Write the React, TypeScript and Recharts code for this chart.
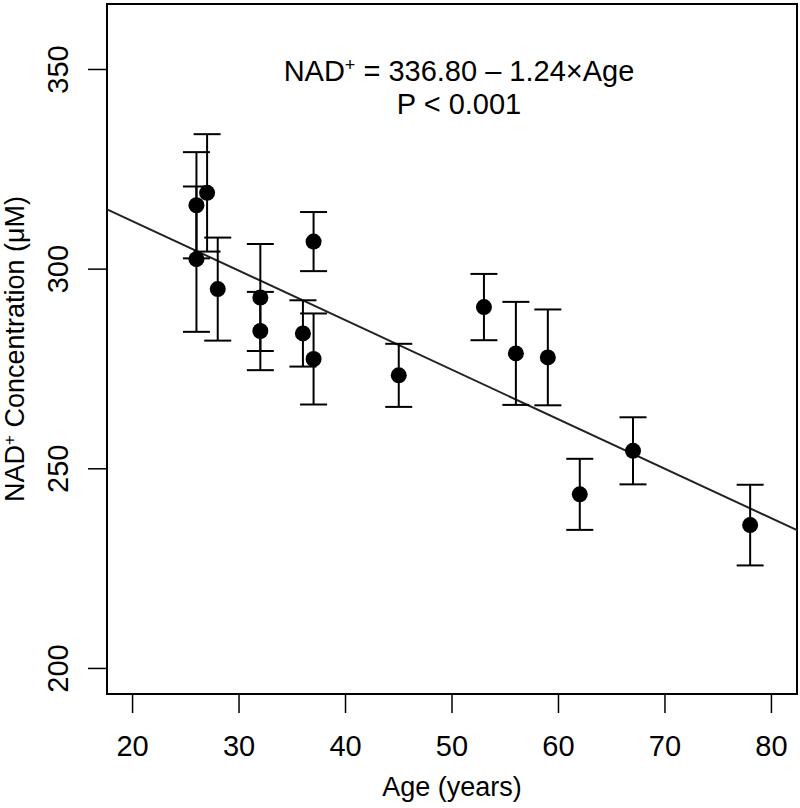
import {
  ErrorBar,
  Label,
  ReferenceArea,
  ReferenceLine,
  Scatter,
  ScatterChart,
  XAxis,
  YAxis,
} from 'recharts';

// Age of each subject and NAD+ mean ± error
const AGES = [26, 26, 27, 28, 32, 32, 36, 37, 37, 45, 53, 56, 59, 62, 67, 78];
const NAD = [316.0, 302.5, 319.1, 295.0, 292.9, 284.5, 283.9, 306.9, 277.5, 273.4, 290.5, 278.9, 277.9, 243.6, 254.5, 235.9];
const ERR = [13.3, 18.2, 14.7, 12.9, 13.4, 9.8, 8.3, 7.4, 11.4, 7.9, 8.3, 12.9, 12.0, 8.9, 8.4, 10.1];

const X_TICKS = [20, 30, 40, 50, 60, 70, 80];
const Y_TICKS = [200, 250, 300, 350];
const X_DOMAIN = [17.6, 82.4];
const Y_DOMAIN = [193.6, 366.4];

// fitted line: NAD+ = 336.80 - 1.24 x Age
const INTERCEPT = 336.8;
const SLOPE = -1.24;

const rows = AGES.map((age, i) => ({ age, nad: NAD[i], err: ERR[i] }));
const fit = X_DOMAIN.map((x) => ({ x, y: INTERCEPT + SLOPE * x }));

const FONT = '"Liberation Sans", Arial, sans-serif';

function YTick(props: any) {
  const { x, y, payload } = props;
  return (
    <text
      x={x}
      y={y}
      transform={`rotate(-90, ${x}, ${y})`}
      textAnchor="middle"
      fontSize={29}
      fill="#000"
    >
      {payload.value}
    </text>
  );
}

function XTitle(props: any) {
  const vb = props.viewBox;
  return (
    <text x={vb.x + vb.width / 2} y={vb.y + 102} textAnchor="middle" fontSize={27} fill="#000">
      Age (years)
    </text>
  );
}

function YTitle(props: any) {
  const vb = props.viewBox;
  const cx = vb.x + 24;
  const cy = vb.y + vb.height / 2;
  return (
    <text
      x={cx}
      y={cy}
      transform={`rotate(-90, ${cx}, ${cy})`}
      textAnchor="middle"
      fontSize={27}
      fill="#000"
    >
      NAD
      <tspan fontSize={17} dy={-9}>
        +
      </tspan>
      <tspan dy={9}> Concentration (μM)</tspan>
    </text>
  );
}

function Annotation(props: any) {
  const vb = props.viewBox;
  const cx = vb.x + 352;
  return (
    <g fill="#000" fontSize={29}>
      <text x={cx} y={vb.y + 77} textAnchor="middle">
        NAD
        <tspan fontSize={18} dy={-10}>
          +
        </tspan>
        <tspan dy={10}> = 336.80 – 1.24×Age</tspan>
      </text>
      <text x={cx} y={vb.y + 110} textAnchor="middle">
        P &lt; 0.001
      </text>
    </g>
  );
}

export default function App() {
  return (
    <div style={{ position: 'absolute', left: 0, top: 0, background: '#fff', fontFamily: FONT }}>
      <ScatterChart width={800} height={808} margin={{ top: 4, right: 3, bottom: 0, left: 0 }}>
        <XAxis
          type="number"
          dataKey="age"
          domain={X_DOMAIN}
          ticks={X_TICKS}
          allowDataOverflow
          axisLine={false}
          tickSize={19}
          tickMargin={22}
          tickLine={{ stroke: '#000', strokeWidth: 1.5 }}
          tick={{ fill: '#000', fontSize: 29 }}
          height={114}
        >
          <Label content={XTitle} />
        </XAxis>
        <YAxis
          type="number"
          dataKey="nad"
          domain={Y_DOMAIN}
          ticks={Y_TICKS}
          allowDataOverflow
          axisLine={false}
          tickSize={19}
          tickMargin={20}
          tickLine={{ stroke: '#000', strokeWidth: 1.5 }}
          tick={YTick}
          width={107}
        >
          <Label content={YTitle} />
        </YAxis>
        <ReferenceArea
          x1={X_DOMAIN[0]}
          x2={X_DOMAIN[1]}
          y1={Y_DOMAIN[0]}
          y2={Y_DOMAIN[1]}
          fill="none"
          stroke="#000"
          strokeWidth={2}
          label={Annotation}
        />
        <ReferenceLine segment={fit} stroke="#222" strokeWidth={2} />
        <Scatter
          data={rows}
          isAnimationActive={false}
          shape={(p: any) => <circle cx={p.cx} cy={p.cy} r={8} fill="#000" />}
        >
          <ErrorBar dataKey="err" direction="y" width={13.5} stroke="#000" strokeWidth={2} />
        </Scatter>
      </ScatterChart>
    </div>
  );
}
